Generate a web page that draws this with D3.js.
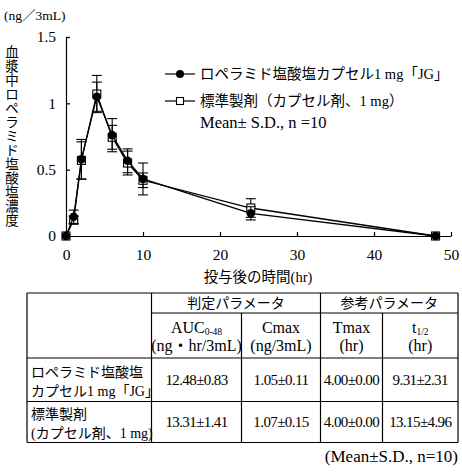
<!DOCTYPE html>
<html>
<head>
<meta charset="utf-8">
<script src="https://cdn.jsdelivr.net/npm/d3@7"></script>
<style>
  body { margin: 0; background: #fff; }
  svg { display: block; }
  text { font-family: "Liberation Serif", "Noto Sans CJK JP", serif; fill: #000; }
  .axis path, .axis line { stroke: #000; stroke-width: 1.2; }
  .axis text { font-size: 15.5px; }
</style>
</head>
<body>
<div id="chart"></div>
<script>
// ---- data ----
const times = [0, 1, 2, 4, 6, 8, 10, 24, 48];
const testMean = [0, 0.145, 0.578, 1.05, 0.76, 0.567, 0.43, 0.171, 0];
const testSD = [0, 0.05, 0.15, 0.11, 0.125, 0.09, 0.12, 0.05, 0];
const refMean = [0, 0.12, 0.57, 1.07, 0.744, 0.55, 0.42, 0.211, 0];
const refSD = [0, 0.03, 0.14, 0.14, 0.09, 0.09, 0.055, 0.07, 0];

const xTicks = [0, 10, 20, 30, 40, 50];
const yTicks = [0, 0.5, 1, 1.5];

const legendLabels = ["ロペラミド塩酸塩カプセル1 mg「JG」", "標準製剤（カプセル剤、1 mg）"];
const legendNote = "Mean± S.D., n =10";

const paramGroups = ["判定パラメータ", "参考パラメータ"];
const paramNames = [["AUC", "0-48"], ["Cmax", ""], ["Tmax", ""], ["t", "1/2"]];
const paramUnits = ["(ng・hr/3mL)", "(ng/3mL)", "(hr)", "(hr)"];
const rowLabels = [["ロペラミド塩酸塩", "カプセル1 mg「JG」"], ["標準製剤", "(カプセル剤、1 mg)"]];
const tableValues = [
  ["12.48±0.83", "1.05±0.11", "4.00±0.00", "9.31±2.31"],
  ["13.31±1.41", "1.07±0.15", "4.00±0.00", "13.15±4.96"]
];

// ---- setup ----
const width = 462, height = 472;
const svg = d3.select("#chart").append("svg")
  .attr("width", width).attr("height", height);

const x = d3.scaleLinear().domain([0, 50]).range([66, 451]);
const y = d3.scaleLinear().domain([0, 1.5]).range([236, 37]);

// axes (ticks point inward)
svg.append("g").attr("class", "axis")
  .attr("transform", `translate(0,${y(0)})`)
  .call(d3.axisBottom(x).tickValues(xTicks).tickSizeInner(-4).tickSizeOuter(0).tickPadding(10))
  .call(g => g.selectAll("text").attr("dy", "0.9em"));

svg.append("g").attr("class", "axis")
  .attr("transform", `translate(${x(0)},0)`)
  .call(d3.axisLeft(y).tickValues(yTicks).tickFormat(d3.format("")).tickSizeInner(-4).tickSizeOuter(0).tickPadding(10));

// axis titles
svg.append("text").attr("x", 4).attr("y", 20).style("font-size", "13.5px").text("(ng／3mL)");

const yTitle = "血漿中ロペラミド塩酸塩濃度".split("");
svg.append("g").selectAll("text").data(yTitle).enter().append("text")
  .attr("x", 12).attr("y", (d, i) => 57 + i * 14)
  .attr("text-anchor", "middle")
  .style("font-size", "13.5px")
  .text(d => d);

svg.append("text").attr("x", 258).attr("y", 282).attr("text-anchor", "middle")
  .style("font-size", "14.5px").text("投与後の時間(hr)");

// ---- series ----
const series = [
  { mean: refMean, sd: refSD, marker: "square" },
  { mean: testMean, sd: testSD, marker: "circle" }
];

const line = d3.line().x(d => x(d.t)).y(d => y(d.m));

series.forEach(s => {
  const pts = times.map((t, i) => ({ t, m: s.mean[i], sd: s.sd[i] }));
  const g = svg.append("g");

  g.append("path").datum(pts)
    .attr("d", line).attr("fill", "none").attr("stroke", "#000").attr("stroke-width", 1.3);

  const eb = g.selectAll(".eb").data(pts.filter(p => p.sd > 0)).enter().append("g");
  eb.append("line")
    .attr("x1", p => x(p.t)).attr("x2", p => x(p.t))
    .attr("y1", p => y(p.m - p.sd)).attr("y2", p => y(p.m + p.sd))
    .attr("stroke", "#000").attr("stroke-width", 1.1);
  [1, -1].forEach(k => {
    eb.append("line")
      .attr("x1", p => x(p.t) - 5).attr("x2", p => x(p.t) + 5)
      .attr("y1", p => y(p.m + k * p.sd)).attr("y2", p => y(p.m + k * p.sd))
      .attr("stroke", "#000").attr("stroke-width", 1.1);
  });

  if (s.marker === "circle") {
    g.selectAll("circle").data(pts).enter().append("circle")
      .attr("cx", p => x(p.t)).attr("cy", p => y(p.m)).attr("r", 4.3).attr("fill", "#000");
  } else {
    g.selectAll("rect").data(pts).enter().append("rect")
      .attr("x", p => x(p.t) - 4).attr("y", p => y(p.m) - 4)
      .attr("width", 8).attr("height", 8)
      .attr("fill", "#fff").attr("stroke", "#000").attr("stroke-width", 1.1);
  }
});

// ---- legend ----
const legendY = [74, 101];
legendLabels.forEach((lab, i) => {
  const ly = legendY[i];
  svg.append("line").attr("x1", 165).attr("x2", 195).attr("y1", ly).attr("y2", ly)
    .attr("stroke", "#000").attr("stroke-width", 1.2);
  if (i === 0) {
    svg.append("circle").attr("cx", 180).attr("cy", ly).attr("r", 4).attr("fill", "#000");
  } else {
    svg.append("rect").attr("x", 176.5).attr("y", ly - 3.5).attr("width", 7).attr("height", 7)
      .attr("fill", "#fff").attr("stroke", "#000").attr("stroke-width", 1.1);
  }
  svg.append("text").attr("x", 200).attr("y", ly + 5).style("font-size", "14.5px").text(lab);
});
svg.append("text").attr("x", 200).attr("y", 128).style("font-size", "16.5px").text(legendNote);

// ---- table ----
const colX = [27, 151.5, 241.5, 320.5, 382.5, 458];
const rowY = [293, 313, 358, 401.5, 442.5];
const tbl = svg.append("g").attr("stroke", "#000").attr("stroke-width", 1.2);

// horizontal rules
tbl.append("line").attr("x1", colX[0]).attr("x2", colX[5]).attr("y1", rowY[0]).attr("y2", rowY[0]);
tbl.append("line").attr("x1", colX[1]).attr("x2", colX[5]).attr("y1", rowY[1]).attr("y2", rowY[1]);
[2, 3, 4].forEach(r => tbl.append("line")
  .attr("x1", colX[0]).attr("x2", colX[5]).attr("y1", rowY[r]).attr("y2", rowY[r]));
// vertical rules
[0, 1, 3, 5].forEach(c => tbl.append("line")
  .attr("x1", colX[c]).attr("x2", colX[c]).attr("y1", rowY[0]).attr("y2", rowY[4]));
[2, 4].forEach(c => tbl.append("line")
  .attr("x1", colX[c]).attr("x2", colX[c]).attr("y1", rowY[1]).attr("y2", rowY[4]));

const tf = "14px";
paramGroups.forEach((gname, i) => {
  svg.append("text").attr("x", (colX[1 + 2 * i] + colX[3 + 2 * i]) / 2).attr("y", 308)
    .attr("text-anchor", "middle").style("font-size", tf).text(gname);
});

paramNames.forEach((p, i) => {
  const cx = (colX[i + 1] + colX[i + 2]) / 2;
  const t = svg.append("text").attr("x", cx).attr("y", 333).attr("text-anchor", "middle")
    .style("font-size", "16px");
  t.append("tspan").text(p[0]);
  if (p[1]) t.append("tspan").attr("dy", 1.5).style("font-size", "9.5px").text(p[1]);
  svg.append("text").attr("x", cx).attr("y", 351).attr("text-anchor", "middle")
    .style("font-size", "16px").text(paramUnits[i]);
});

rowLabels.forEach((lab, r) => {
  const top = rowY[r + 2], bot = rowY[r + 3];
  const mid = (top + bot) / 2;
  lab.forEach((l, k) => {
    svg.append("text").attr("x", 31).attr("y", mid - 3 + k * 19)
      .style("font-size", tf).text(l);
  });
  tableValues[r].forEach((v, c) => {
    svg.append("text").attr("x", (colX[c + 1] + colX[c + 2]) / 2).attr("y", mid + 5)
      .attr("text-anchor", "middle").style("font-size", "15px")
      .attr("letter-spacing", "-0.6px").text(v);
  });
});

svg.append("text").attr("x", 458).attr("y", 462).attr("text-anchor", "end")
  .style("font-size", "17px").text("(Mean±S.D., n=10)");
</script>
</body>
</html>
